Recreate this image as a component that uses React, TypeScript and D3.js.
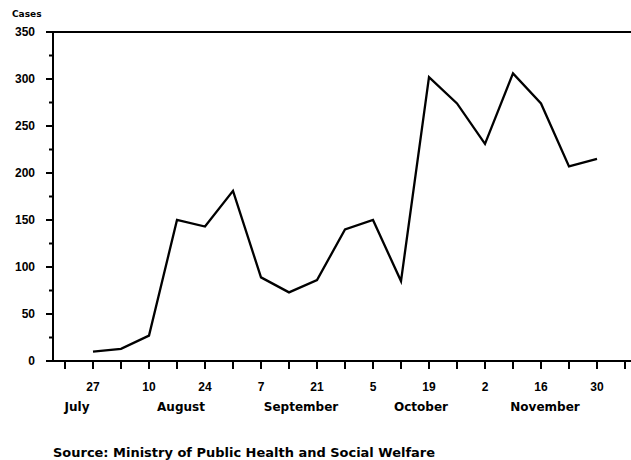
import React from "react";
import { scaleLinear, scaleTime, line, range } from "d3";

// weekly reported cases
const weekDates = [
  "1990-07-27", "1990-08-03", "1990-08-10", "1990-08-17", "1990-08-24", "1990-08-31",
  "1990-09-07", "1990-09-14", "1990-09-21", "1990-09-28", "1990-10-05", "1990-10-12",
  "1990-10-19", "1990-10-26", "1990-11-02", "1990-11-09", "1990-11-16", "1990-11-23",
  "1990-11-30",
];
const cases = [10, 13, 27, 150, 143, 181, 89, 73, 86, 140, 150, 85, 302, 274, 231, 306, 274, 207, 215];

const dayLabels = [
  { date: "1990-07-27", label: "27" },
  { date: "1990-08-10", label: "10" },
  { date: "1990-08-24", label: "24" },
  { date: "1990-09-07", label: "7" },
  { date: "1990-09-21", label: "21" },
  { date: "1990-10-05", label: "5" },
  { date: "1990-10-19", label: "19" },
  { date: "1990-11-02", label: "2" },
  { date: "1990-11-16", label: "16" },
  { date: "1990-11-30", label: "30" },
];
const monthLabels = [
  { date: "1990-07-23", label: "July" },
  { date: "1990-08-18", label: "August" },
  { date: "1990-09-17", label: "September" },
  { date: "1990-10-17", label: "October" },
  { date: "1990-11-17", label: "November" },
];
const yTicks = [0, 50, 100, 150, 200, 250, 300, 350];

const parse = (s: string) => new Date(s + "T00:00:00");

export default function App() {
  const width = 631;
  const height = 460;
  const left = 53;
  const top = 32;
  const bottom = 361;
  const numFont = "'Liberation Sans', Arial, sans-serif";
  const wordFont = "'DejaVu Sans', sans-serif";

  const x = scaleTime()
    .domain([parse("1990-07-17"), new Date("1990-12-08T12:00:00")])
    .range([left, width]);
  const y = scaleLinear().domain([0, 350]).range([bottom, top]);

  const weekTicks = range(21).map((i) => new Date(1990, 6, 20 + i * 7));
  const minorY = range(25, 350, 50);

  const pts = cases.map((v, i) => [x(parse(weekDates[i])), y(v)] as [number, number]);
  const path = line()(pts) || "";

  return (
    <svg
      width={width}
      height={height}
      style={{ position: "absolute", left: 0, top: 0, background: "white" }}
      fontFamily={numFont}
      fontWeight="bold"
    >
      <text x={12} y={17} fontSize={9} fontFamily={wordFont}>Cases</text>

      {/* frame */}
      <line x1={left} x2={width} y1={top} y2={top} stroke="black" strokeWidth={2} />
      <line x1={left} x2={left} y1={top - 1} y2={bottom + 1} stroke="black" strokeWidth={2} />
      <line x1={left - 1} x2={width} y1={bottom} y2={bottom} stroke="black" strokeWidth={2} />

      {yTicks.map((t) => (
        <g key={t}>
          <line x1={left - 7} x2={left} y1={y(t)} y2={y(t)} stroke="black" strokeWidth={2} />
          <text x={35} y={y(t) + 4} fontSize={12} textAnchor="end">{t}</text>
        </g>
      ))}
      {minorY.map((t) => (
        <line key={t} x1={left - 4} x2={left} y1={y(t)} y2={y(t)} stroke="black" strokeWidth={2} />
      ))}

      {weekTicks.map((d, i) => (
        <line key={i} x1={x(d)} x2={x(d)} y1={bottom} y2={bottom + 8} stroke="black" strokeWidth={2} />
      ))}
      {dayLabels.map((d) => (
        <text key={d.date} x={x(parse(d.date))} y={391} fontSize={12} textAnchor="middle">{d.label}</text>
      ))}
      {monthLabels.map((d) => (
        <text key={d.label} x={x(parse(d.date))} y={411} fontSize={12} fontFamily={wordFont} textAnchor="middle">{d.label}</text>
      ))}

      <path d={path} fill="none" stroke="black" strokeWidth={2.3} strokeLinejoin="miter" />

      <text x={53} y={457} fontSize={12} fontFamily={wordFont} textLength={382} lengthAdjust="spacingAndGlyphs">
        Source: Ministry of Public Health and Social Welfare
      </text>
    </svg>
  );
}
